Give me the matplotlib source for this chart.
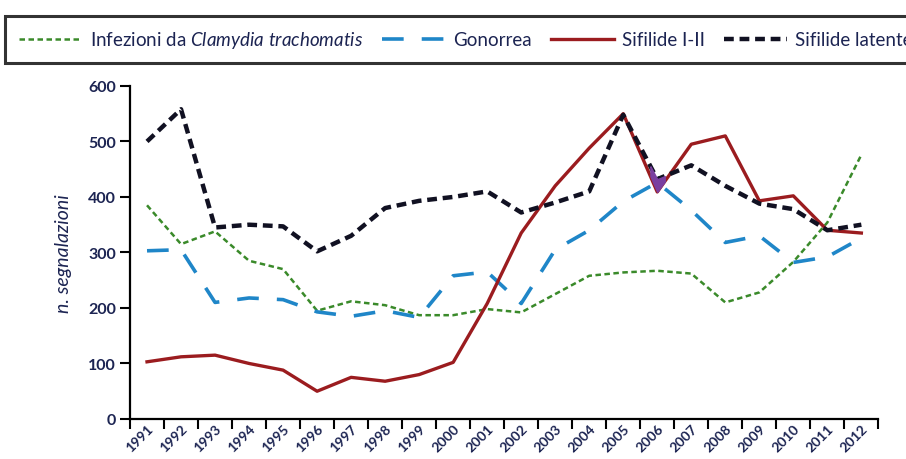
import numpy as np
import matplotlib.pyplot as plt
from matplotlib.ticker import FixedLocator, NullFormatter

years = [str(y) for y in range(1991, 2013)]

clamydia = [385, 315, 338, 285, 270, 195, 212, 205, 187, 187, 198, 192,
            225, 258, 264, 267, 262, 210, 228, 283, 354, 476]
gonorrea = [303, 305, 210, 218, 215, 193, 185, 195, 183, 258, 265, 208,
            305, 340, 392, 426, 376, 318, 330, 282, 292, 326]
sifilide_12 = [103, 112, 115, 100, 88, 50, 75, 68, 80, 102, 208, 335,
               420, 488, 550, 409, 495, 510, 393, 402, 340, 335]
sifilide_lat = [500, 558, 345, 350, 347, 302, 330, 380, 393, 400, 410, 372,
                390, 410, 548, 432, 457, 420, 388, 378, 340, 350]

navy = '#1c2452'
plt.rcParams['font.family'] = ['Lato', 'DejaVu Sans']
plt.rcParams['mathtext.fontset'] = 'custom'
plt.rcParams['mathtext.it'] = 'Lato:italic'
plt.rcParams['mathtext.rm'] = 'Lato'

fig = plt.figure(figsize=(9.06, 4.6), dpi=100)
ax = fig.add_axes([0.1435, 0.087, 0.826, 0.724])

x = np.arange(len(years))

ax.plot(x, clamydia, color='#3a8a2a', linewidth=1.8, dashes=(2.2, 1.4),
        label='Infezioni da $\\it{Clamydia\\ trachomatis}$')
ax.plot(x, gonorrea, color='#1f86c8', linewidth=2.6, dashes=(6, 5),
        label='Gonorrea')
ax.plot(x, sifilide_12, color='#9b1c1f', linewidth=2.4, label='Sifilide I-II')
ax.plot(x, sifilide_lat, color='#111122', linewidth=3.2, dashes=(2.2, 1.3),
        label='Sifilide latente')

# piccolo triangolo viola tra le linee nel 2006
xf = np.linspace(x[15] - 0.2, x[15] + 0.22, 30)
red_i = np.interp(xf, x, sifilide_12)
blk_i = np.interp(xf, x, sifilide_lat)
ax.fill_between(xf, red_i, blk_i, where=red_i < blk_i, color='#7a3fa0',
                interpolate=True, zorder=5)

ax.set_xlim(-0.5, len(years) - 0.5)
ax.set_ylim(0, 600)
ax.set_yticks([0, 100, 200, 300, 400, 500, 600])
ax.set_xticks(x)
ax.set_xticklabels(years, rotation=45, ha='right', rotation_mode='anchor')
ax.xaxis.set_minor_locator(FixedLocator(np.arange(-0.5, len(years), 1)))
ax.xaxis.set_minor_formatter(NullFormatter())
ax.tick_params(axis='x', which='major', length=0, pad=2, labelsize=10,
               labelcolor=navy)
ax.tick_params(axis='x', which='minor', length=7, width=1.5, color='black')
ax.tick_params(axis='y', length=7, width=1.5, labelsize=11.5, labelcolor=navy,
               pad=3)
for lab in ax.get_xticklabels() + ax.get_yticklabels():
    lab.set_fontweight('bold')

for s in ['top', 'right']:
    ax.spines[s].set_visible(False)
ax.spines['left'].set_linewidth(1.6)
ax.spines['bottom'].set_linewidth(1.6)

ax.set_ylabel('n. segnalazioni', fontstyle='italic', fontsize=14,
              color=navy, labelpad=12)

leg = fig.legend(loc='upper left', bbox_to_anchor=(0.006, 0.963),
                 ncol=4, frameon=True, fancybox=False,
                 fontsize=13.5, handlelength=3.4, handletextpad=0.4,
                 columnspacing=1.0, borderaxespad=0, borderpad=0.7,
                 labelcolor=navy)
leg.get_frame().set_edgecolor('black')
leg.get_frame().set_linewidth(2.2)

fig.savefig('out.png', dpi=100)
